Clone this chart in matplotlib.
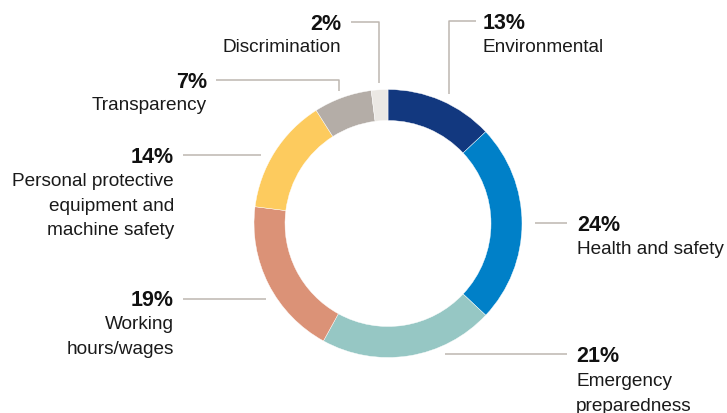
import matplotlib
matplotlib.use("Agg")
import matplotlib.pyplot as plt

# ---- data ----
categories = ["Environmental", "Health and safety", "Emergency\npreparedness",
              "Working\nhours/wages", "Personal protective\nequipment and\nmachine safety",
              "Transparency", "Discrimination"]
values = [13, 24, 21, 19, 14, 7, 2]
pct_labels = ["13%", "24%", "21%", "19%", "14%", "7%", "2%"]
colors = ["#12387F", "#0080C8", "#96C7C4", "#DB9277", "#FDCB5E", "#B4ADA7", "#EBE8E4"]

# ---- layout (pixel coordinates, y from top) ----
W, H = 727, 414
center = (388, 224.5)
radius = 134
ring = 31
# (text x, pct y, name first-line y, ha, leader polyline)
layout = [
    (483, 23.5, 47, "left", [(476, 22), (449, 22), (449, 95)]),
    (577, 225.5, 249, "left", [(567, 224), (535, 224)]),
    (576, 357, 382, "left", [(567, 354.5), (445, 354.5)]),
    (174, 300.5, 325, "right", [(183, 300), (266, 300)]),
    (174, 157.5, 182, "right", [(183, 156), (261, 156)]),
    (207, 82.5, 106, "right", [(216, 81), (339, 81), (339, 92)]),
    (341, 24, 47, "right", [(351, 23), (379, 23), (379, 84)]),
]
line_gap = 24.5
line_color = "#BDB6B0"

plt.rcParams['font.family'] = ['Liberation Sans', 'DejaVu Sans']
fig = plt.figure(figsize=(W / 100, H / 100), dpi=100)
ax = fig.add_axes([0, 0, 1, 1])
ax.set_xlim(0, W)
ax.set_ylim(0, H)
ax.set_aspect('equal')
ax.axis('off')

def fy(y):
    return H - y

ax.pie(values, colors=colors, startangle=90, counterclock=False,
       center=(center[0], fy(center[1])), radius=radius,
       wedgeprops=dict(width=ring, edgecolor='white', linewidth=0.3))
ax.set_xlim(0, W)
ax.set_ylim(0, H)

for (tx, py, ny, ha, pts), name, pct in zip(layout, categories, pct_labels):
    ax.plot([p[0] for p in pts], [fy(p[1]) for p in pts], color=line_color, lw=1.1,
            solid_capstyle='butt')
    ax.text(tx, fy(py), pct, ha=ha, va='center', fontsize=15.5, fontweight='bold',
            color='#111111')
    for i, ln in enumerate(name.split("\n")):
        ax.text(tx, fy(ny + i * line_gap), ln, ha=ha, va='center', fontsize=13.7,
                color='#1a1a1a')

fig.savefig("out.png", dpi=100)
